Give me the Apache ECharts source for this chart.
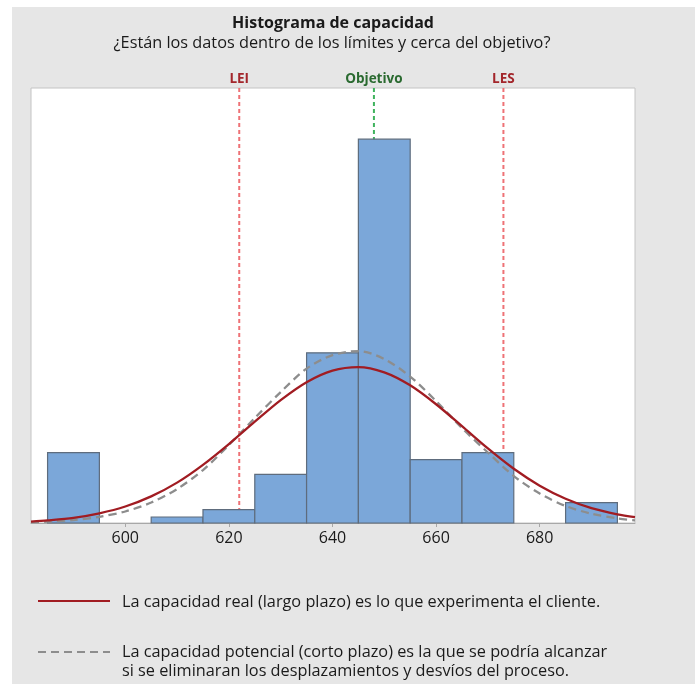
<!DOCTYPE html>
<html>
<head>
<meta charset="utf-8">
<script src="https://cdn.jsdelivr.net/npm/echarts@6/dist/echarts.min.js"></script>
<style>html,body{margin:0;padding:0;background:#fff;}#c{width:695px;height:684px;}</style>
</head>
<body>
<div id="c"></div>
<script>
// ---- data ----
const binEdges = [585, 595, 605, 615, 625, 635, 645, 655, 665, 675, 685, 695];
const frequencies = [11.0, 0, 0.94, 2.1, 7.6, 26.6, 60.0, 9.9, 11.0, 0, 3.2];
const curveX = [581.8, 585, 590, 595, 600, 605, 610, 615, 620, 625, 630, 635, 640, 645, 650, 655, 660, 665, 670, 675, 680, 685, 690, 695, 698.4];
const realFit = [0.23, 0.41, 0.81, 1.52, 2.58, 4.16, 6.31, 9.09, 12.34, 15.84, 19.22, 22.02, 23.83, 24.38, 23.55, 21.52, 18.56, 15.14, 11.66, 8.48, 5.84, 3.80, 2.33, 1.36, 0.91];
const potentialFit = [0.13, 0.20, 0.47, 0.97, 1.80, 3.20, 5.31, 8.28, 12.19, 16.41, 20.47, 24.14, 26.25, 26.88, 25.63, 22.89, 19.06, 14.84, 11.02, 7.34, 4.61, 2.66, 1.45, 0.72, 0.42];
const xTicks = [600, 620, 640, 660, 680];
const specNames = ['LEI', 'Objetivo', 'LES'];
const specValues = [622, 648, 673];

const titleText = 'Histograma de capacidad';
const subtitleText = '¿Están los datos dentro de los límites y cerca del objetivo?';
const legendReal = 'La capacidad real (largo plazo) es lo que experimenta el cliente.';
const legendPot1 = 'La capacidad potencial (corto plazo) es la que se podría alcanzar';
const legendPot2 = 'si se eliminaran los desplazamientos y desvíos del proceso.';

// ---- build ----
const Y_MAX = 68;
const histData = frequencies.map((f, i) => [binEdges[i], binEdges[i + 1], f]);
const realData = curveX.map((x, i) => [x, realFit[i]]);
const potData = curveX.map((x, i) => [x, potentialFit[i]]);
const specData = specValues.map((v, i) => [v, i]);
const specColors = ['#ee7276', '#3fb35d', '#ee7276'];
const specLabelColors = ['#a3262b', '#2a6a30', '#a3262b'];

const FONT = '"Open Sans", "Noto Sans", sans-serif';
const chart = echarts.init(document.getElementById('c'), null, {renderer: 'canvas'});

chart.setOption({
  backgroundColor: '#e6e6e6',
  animation: false,
  grid: {
    left: 31, right: 60, top: 88, bottom: 161,
    show: true, backgroundColor: '#ffffff', borderColor: '#c4c4c4', borderWidth: 1
  },
  xAxis: {
    type: 'value', min: 581.8, max: 698.4,
    axisLine: {lineStyle: {color: '#a8a8a8', width: 1}},
    axisTick: {show: true, length: 4, customValues: xTicks, lineStyle: {color: '#a8a8a8'}},
    axisLabel: {customValues: xTicks, fontSize: 16, color: '#1a1a1a', fontFamily: FONT, margin: 7},
    splitLine: {show: false}
  },
  yAxis: {type: 'value', min: 0, max: Y_MAX, show: false, splitLine: {show: false}},
  series: [
    {
      type: 'custom', zlevel: 0, z: 1, data: specData, clip: false,
      encode: {x: 0},
      renderItem: function (params, api) {
        const v = api.value(0);
        const i = api.value(1);
        const top = api.coord([v, Y_MAX]);
        const bot = api.coord([v, 0]);
        return {
          type: 'group',
          children: [
            {type: 'line', shape: {x1: top[0], y1: top[1], x2: bot[0], y2: bot[1]},
             style: {stroke: specColors[i], lineWidth: 2, lineDash: [4, 3]}},
            {type: 'text', x: top[0], y: top[1] - 9,
             style: {text: specNames[i], fill: specLabelColors[i], font: 'bold 13.5px ' + FONT,
                     textAlign: 'center', textVerticalAlign: 'middle'}}
          ]
        };
      }
    },
    {
      type: 'custom', zlevel: 1, z: 2, data: histData,
      encode: {x: [0, 1], y: 2},
      renderItem: function (params, api) {
        if (api.value(2) <= 0) return null;
        const p0 = api.coord([api.value(0), api.value(2)]);
        const p1 = api.coord([api.value(1), 0]);
        return {
          type: 'rect',
          shape: {x: p0[0], y: p0[1], width: p1[0] - p0[0], height: p1[1] - p0[1]},
          style: {fill: '#7ba7d9', stroke: '#5e6c7d', lineWidth: 1.2}
        };
      }
    },
    {
      type: 'line', zlevel: 1, z: 3, data: potData, smooth: 0.3, showSymbol: false,
      lineStyle: {color: '#8d8d8d', width: 2.3, type: [8, 5]}
    },
    {
      type: 'line', zlevel: 1, z: 4, data: realData, smooth: 0.3, showSymbol: false,
      lineStyle: {color: '#a11c22', width: 2.3}
    }
  ],
  graphic: [
    {type: 'rect', shape: {x: 0, y: 0, width: 695, height: 7}, style: {fill: '#ffffff'}, silent: true},
    {type: 'rect', shape: {x: 0, y: 0, width: 12, height: 684}, style: {fill: '#ffffff'}, silent: true},
    {type: 'text', x: 333, y: 23, style: {text: titleText, fill: '#1a1a1a', font: 'bold 16px ' + FONT, textAlign: 'center', textVerticalAlign: 'middle'}},
    {type: 'text', x: 332, y: 43, style: {text: subtitleText, fill: '#1a1a1a', font: '16.3px ' + FONT, textAlign: 'center', textVerticalAlign: 'middle'}},
    {type: 'line', shape: {x1: 38, y1: 601, x2: 110, y2: 601}, style: {stroke: '#a11c22', lineWidth: 2}},
    {type: 'text', x: 122, y: 602, style: {text: legendReal, fill: '#1a1a1a', font: '16.3px ' + FONT, textVerticalAlign: 'middle'}},
    {type: 'line', shape: {x1: 38, y1: 652, x2: 110, y2: 652}, style: {stroke: '#8d8d8d', lineWidth: 2, lineDash: [8, 5]}},
    {type: 'text', x: 122, y: 652, style: {text: legendPot1, fill: '#1a1a1a', font: '16.3px ' + FONT, textVerticalAlign: 'middle'}},
    {type: 'text', x: 122, y: 671, style: {text: legendPot2, fill: '#1a1a1a', font: '16.3px ' + FONT, textVerticalAlign: 'middle'}}
  ]
});
</script>
</body>
</html>
